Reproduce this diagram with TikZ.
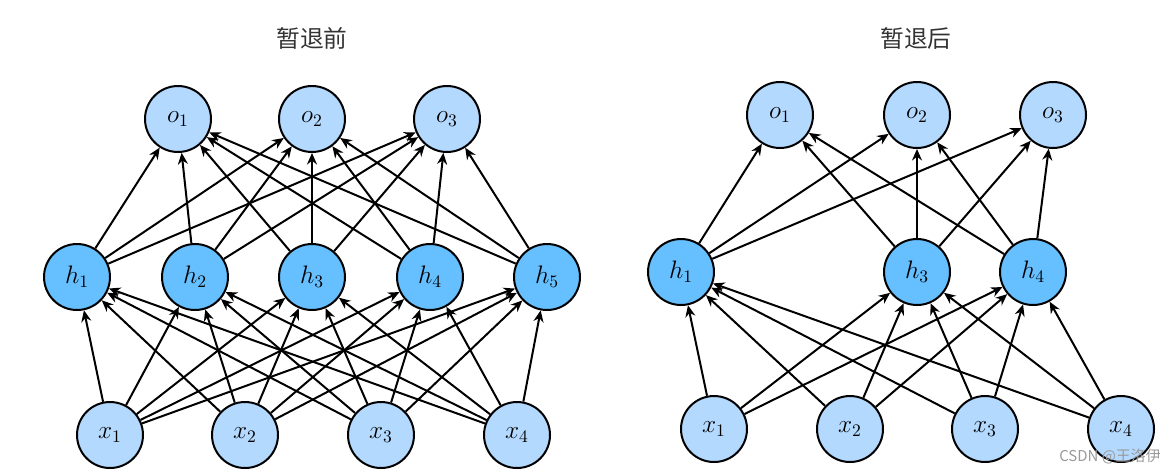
\documentclass[tikz,border=0pt]{standalone}
\usepackage{fontspec}
\newfontfamily\cjk{Noto Sans CJK SC}
\usepackage{tikz}
\usetikzlibrary{arrows.meta}
\definecolor{lightblue}{RGB}{179,217,255}
\definecolor{hidblue}{RGB}{102,191,255}

\begin{document}
\begin{tikzpicture}[x=0.02cm, y=-0.02cm,
    neuron/.style={circle, draw=black, line width=0.04cm, minimum size=1.32cm, inner sep=0pt, font=\fontsize{14.5}{17}\selectfont},
    outer/.style={neuron, fill=lightblue},
    hidden/.style={neuron, fill=hidblue},
    conn/.style={-{Stealth[length=0.23cm, width=0.2cm]}, line width=0.04cm},
    title/.style={text=black!80, font=\cjk\fontsize{13.5}{16}\selectfont},
  ]
  \useasboundingbox (0,0) rectangle (1175,471);

  % before dropout
  \node[title] (t1) at (312,38) {暂退前};
  \foreach \i/\px in {1/178, 2/312, 3/447}
    \node[outer] (lo\i) at (\px,119) {$o_\i$};
  \foreach \i/\px in {1/77, 2/195, 3/312, 4/430, 5/547}
    \node[hidden] (lh\i) at (\px,277) {$h_\i$};
  \foreach \i/\px in {1/110, 2/245, 3/381, 4/517}
    \node[outer] (lx\i) at (\px,435) {$x_\i$};

  \foreach \i in {1, ..., 4}
    \foreach \j in {1, ..., 5}
      \draw[conn] (lx\i) -- (lh\j);
  \foreach \j in {1, ..., 5}
    \foreach \k in {1, 2, 3}
      \draw[conn] (lh\j) -- (lo\k);

  % after dropout (h2, h5 removed)
  \node[title] (t2) at (916,38) {暂退后};
  \foreach \i/\px in {1/780, 2/917, 3/1053}
    \node[outer] (ro\i) at (\px,115) {$o_\i$};
  \foreach \i/\px in {1/681, 3/917, 4/1033}
    \node[hidden] (rh\i) at (\px,272) {$h_\i$};
  \foreach \i/\px in {1/714, 2/850, 3/985, 4/1121}
    \node[outer] (rx\i) at (\px,429) {$x_\i$};

  \foreach \i in {1, ..., 4}
    \foreach \j in {1, 3, 4}
      \draw[conn] (rx\i) -- (rh\j);
  \foreach \j in {1, 3, 4}
    \foreach \k in {1, 2, 3}
      \draw[conn] (rh\j) -- (ro\k);

  %\draw[red] (0,0) rectangle (1175,471);
  \node[text=black!40, font=\cjk\fontsize{8.5}{10}\selectfont] (mark) at (1110,456) {CSDN @王洛伊};
\end{tikzpicture}
\end{document}
